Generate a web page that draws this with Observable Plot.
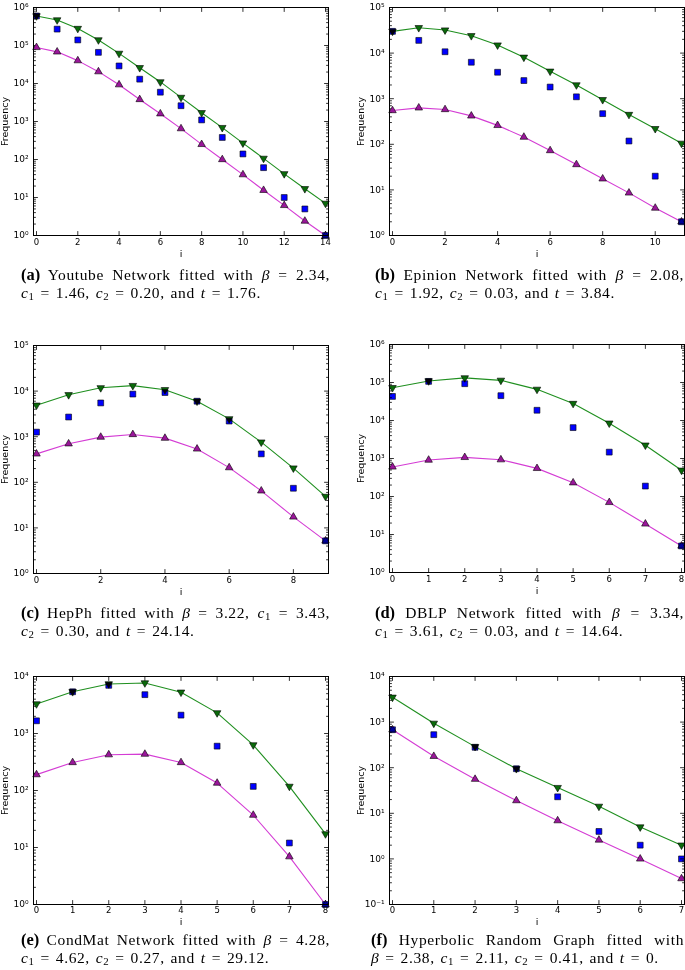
<!DOCTYPE html>
<html>
<head>
<meta charset="utf-8">
<script src="https://cdn.jsdelivr.net/npm/d3@7"></script>
<script src="https://cdn.jsdelivr.net/npm/@observablehq/plot@0.6"></script>
<style>
  body { margin: 0; background: #fff; }
  #page { position: relative; width: 685px; height: 970px; overflow: hidden; background: #fff; }
  .panel { position: absolute; }
  .cap { position: absolute; font-family: "Liberation Serif", "DejaVu Serif", serif; font-size: 15.5px; line-height: 17.5px; color: #000; letter-spacing: 0.6px; word-spacing: 1.5px; }
  .cap .l1 { text-align: justify; text-align-last: justify; }
  .cap b { font-weight: bold; letter-spacing: 0; font-size: 1.06em; }
  .cap sub { font-size: 0.7em; line-height: 0; vertical-align: -0.2em; }
</style>
</head>
<body>
<div id="page"></div>
<script>
// ---------------- data ----------------
// Panel (a) Youtube
const aI = [0,1,2,3,4,5,6,7,8,9,10,11,12,13,14];
const aUpper    = [6.0e5, 4.7e5, 2.8e5, 1.4e5, 6.2e4, 2.6e4, 1.1e4, 4.3e3, 1.7e3, 690, 270, 107, 42, 17, 7];
const aObserved = [6.0e5, 2.7e5, 1.4e5, 6.6e4, 2.9e4, 1.3e4, 5.9e3, 2.6e3, 1.1e3, 380, 140, 61, 10, 5, 1];
const aLower    = [8.9e4, 6.8e4, 4.0e4, 2.05e4, 9.3e3, 3.8e3, 1.6e3, 650, 250, 100, 40, 15.5, 6.2, 2.4, 1];
const aXTicks = [0,2,4,6,8,10,12,14];
const aYTicks = [1e0,1e1,1e2,1e3,1e4,1e5,1e6];

// Panel (b) Epinion
const bI = [0,1,2,3,4,5,6,7,8,9,10,11];
const bUpper    = [3.0e4, 3.6e4, 3.2e4, 2.4e4, 1.5e4, 8.1e3, 4.0e3, 2.0e3, 950, 450, 220, 105];
const bObserved = [3.0e4, 1.9e4, 1.07e4, 6.3e3, 3.8e3, 2.5e3, 1.8e3, 1.1e3, 470, 118, 20, 2];
const bLower    = [550, 630, 580, 420, 260, 144, 73, 36, 17.5, 8.6, 4, 2];
const bXTicks = [0,2,4,6,8,10];
const bYTicks = [1e0,1e1,1e2,1e3,1e4,1e5];

// Panel (c) HepPh
const cI = [0,1,2,3,4,5,6,7,8,9];
const cUpper    = [4.9e3, 8.3e3, 1.18e4, 1.32e4, 1.07e4, 6.0e3, 2.46e3, 760, 205, 49];
const cObserved = [1.26e3, 2.7e3, 5.5e3, 8.6e3, 9.3e3, 6.0e3, 2.2e3, 420, 74, 5.2];
const cLower    = [420, 700, 980, 1120, 930, 540, 210, 65, 17.4, 5.2];
const cXTicks = [0,2,4,6,8];
const cYTicks = [1e0,1e1,1e2,1e3,1e4,1e5];

// Panel (d) DBLP
const dI = [0,1,2,3,4,5,6,7,8];
const dUpper    = [7.3e4, 1.1e5, 1.32e5, 1.14e5, 6.6e4, 2.8e4, 8.5e3, 2.24e3, 490];
const dObserved = [4.3e4, 1.07e5, 9.3e4, 4.5e4, 1.86e4, 6.5e3, 1.47e3, 188, 5];
const dLower    = [600, 910, 1070, 930, 550, 230, 70, 19, 5];
const dXTicks = [0,1,2,3,4,5,6,7,8];
const dYTicks = [1e0,1e1,1e2,1e3,1e4,1e5,1e6];

// Panel (e) CondMat
const eI = [0,1,2,3,4,5,6,7,8];
const eUpper    = [3.3e3, 5.4e3, 7.4e3, 7.7e3, 5.3e3, 2.3e3, 630, 118, 17.3];
const eObserved = [1.67e3, 5.4e3, 7.0e3, 4.8e3, 2.1e3, 600, 118, 12, 1];
const eLower    = [190, 310, 425, 435, 310, 135, 37, 6.9, 1];
const eXTicks = [0,1,2,3,4,5,6,7,8];
const eYTicks = [1e0,1e1,1e2,1e3,1e4];

// Panel (f) Hyperbolic Random Graph
const fI = [0,1,2,3,4,5,6,7];
const fUpper    = [3.5e3, 940, 290, 95, 36.6, 14.2, 5.0, 2.0];
const fObserved = [680, 530, 280, 95, 23, 4.0, 2.0, 1.0];
const fLower    = [680, 178, 56, 19, 6.9, 2.6, 1.0, 0.37];
const fXTicks = [0,1,2,3,4,5,6,7];
const fYTicks = [1e-1,1e0,1e1,1e2,1e3,1e4];

// ---------------- styling ----------------
const GREEN_LINE = "#1f8f1f";
const GREEN_FILL = "#0a6a0a";
const MAG_LINE = "#d43cd4";
const MAG_FILL = "#9a169a";
const BLUE_FILL = "#0000ff";

const SUP = {"-":"\u207B","0":"\u2070","1":"\u00B9","2":"\u00B2","3":"\u00B3","4":"\u2074","5":"\u2075","6":"\u2076","7":"\u2077","8":"\u2078","9":"\u2079"};
const fmtPow = v => "10" + String(Math.round(Math.log10(v))).split("").map(c => SUP[c]).join("");
const tickShape = { draw(ctx, l) { ctx.moveTo(0, 0); ctx.lineTo(0, -l); } };

function minorOf(yTicks) {
  const out = [];
  for (let j = 0; j < yTicks.length - 1; j++) for (let k = 2; k <= 9; k++) out.push(k * yTicks[j]);
  return out;
}

function panel(p) {
  const rows = arr => p.i.map((x, j) => ({x, y: arr[j]}));
  const up = rows(p.upper), obs = rows(p.observed), lo = rows(p.lower);
  const minor = minorOf(p.yTicks);
  const tk = {shape: tickShape, anchor: "start", stroke: "#000", strokeWidth: 0.8};
  return Plot.plot({
    width: p.width, height: p.height,
    marginLeft: 33, marginRight: p.mr, marginTop: 7, marginBottom: p.height - 7 - 228,
    style: {fontFamily: "DejaVu Sans, sans-serif", fontSize: "8px", background: "transparent", overflow: "visible"},
    x: {domain: [0, p.i[p.i.length - 1]], inset: 3},
    y: {type: "log", domain: [p.yTicks[0], p.yTicks[p.yTicks.length - 1]]},
    marks: [
      Plot.axisX(p.xTicks, {tickSize: 0, tickPadding: p.xpad, label: null, tickFormat: d => String(d), fontSize: 8.5}),
      Plot.axisY(p.yTicks, {tickSize: 0, tickPadding: 5, label: null, tickFormat: fmtPow, fontSize: 9}),
      // inward ticks on all four sides
      Plot.vector(p.xTicks, {x: d => d, frameAnchor: "bottom", rotate: 0, length: 4, ...tk}),
      Plot.vector(p.xTicks, {x: d => d, frameAnchor: "top", rotate: 180, length: 4, ...tk}),
      Plot.vector(p.yTicks, {y: d => d, frameAnchor: "left", rotate: 90, length: 4, ...tk}),
      Plot.vector(p.yTicks, {y: d => d, frameAnchor: "right", rotate: -90, length: 4, ...tk}),
      Plot.vector(minor, {y: d => d, frameAnchor: "left", rotate: 90, length: 2, ...tk}),
      Plot.vector(minor, {y: d => d, frameAnchor: "right", rotate: -90, length: 2, ...tk}),
      Plot.line(up, {x: "x", y: "y", stroke: GREEN_LINE, strokeWidth: 1.1}),
      Plot.line(lo, {x: "x", y: "y", stroke: MAG_LINE, strokeWidth: 1.1}),
      Plot.dot(up, {x: "x", y: "y", symbol: "triangle", rotate: 180, r: 2.8, fill: GREEN_FILL, stroke: "#000", strokeWidth: 0.6}),
      Plot.dot(lo, {x: "x", y: "y", symbol: "triangle", r: 2.8, fill: MAG_FILL, stroke: "#000", strokeWidth: 0.6}),
      Plot.dot(obs, {x: "x", y: "y", symbol: "square", r: 3.3, fill: BLUE_FILL, stroke: "#000", strokeWidth: 0.6, mixBlendMode: "multiply"}),
      Plot.frame({stroke: "#000", strokeWidth: 1}),
      Plot.text(["Frequency"], {frameAnchor: "left", rotate: -90, dx: -29, textAnchor: "middle", lineAnchor: "middle", fontSize: 9.5}),
      Plot.text(["i"], {frameAnchor: "bottom", dy: p.idy, textAnchor: "middle", lineAnchor: "middle", fontSize: 9.5})
    ]
  });
}

const panels = [
  {i: aI, upper: aUpper, observed: aObserved, lower: aLower, xTicks: aXTicks, yTicks: aYTicks, left: 0,   top: 0,   width: 340, mr: 12, height: 262, xpad: 3, idy: 18},
  {i: bI, upper: bUpper, observed: bObserved, lower: bLower, xTicks: bXTicks, yTicks: bYTicks, left: 356, top: 0,   width: 329, mr: 1,  height: 262, xpad: 3, idy: 18},
  {i: cI, upper: cUpper, observed: cObserved, lower: cLower, xTicks: cXTicks, yTicks: cYTicks, left: 0,   top: 338, width: 340, mr: 12, height: 262, xpad: 3, idy: 18},
  {i: dI, upper: dUpper, observed: dObserved, lower: dLower, xTicks: dXTicks, yTicks: dYTicks, left: 356, top: 337, width: 329, mr: 1,  height: 262, xpad: 3, idy: 18},
  {i: eI, upper: eUpper, observed: eObserved, lower: eLower, xTicks: eXTicks, yTicks: eYTicks, left: 0,   top: 669, width: 340, mr: 12, height: 258, xpad: 2, idy: 17},
  {i: fI, upper: fUpper, observed: fObserved, lower: fLower, xTicks: fXTicks, yTicks: fYTicks, left: 356, top: 669, width: 329, mr: 1,  height: 258, xpad: 2, idy: 17}
];

const page = document.getElementById("page");
for (const p of panels) {
  const div = document.createElement("div");
  div.className = "panel";
  div.style.left = p.left + "px";
  div.style.top = p.top + "px";
  div.appendChild(panel(p));
  page.appendChild(div);
}

// ---------------- captions ----------------
const captions = [
  {left: 21,  top: 266, width: 309, l1: "<b>(a)</b> Youtube Network fitted with <i>β</i> = 2.34,", l2: "<i>c</i><sub>1</sub> = 1.46, <i>c</i><sub>2</sub> = 0.20, and <i>t</i> = 1.76."},
  {left: 375, top: 266, width: 309, l1: "<b>(b)</b> Epinion Network fitted with <i>β</i> = 2.08,", l2: "<i>c</i><sub>1</sub> = 1.92, <i>c</i><sub>2</sub> = 0.03, and <i>t</i> = 3.84."},
  {left: 21,  top: 604, width: 309, l1: "<b>(c)</b> HepPh fitted with <i>β</i> = 3.22, <i>c</i><sub>1</sub> = 3.43,", l2: "<i>c</i><sub>2</sub> = 0.30, and <i>t</i> = 24.14."},
  {left: 375, top: 604, width: 309, l1: "<b>(d)</b> DBLP Network fitted with <i>β</i> = 3.34,", l2: "<i>c</i><sub>1</sub> = 3.61, <i>c</i><sub>2</sub> = 0.03, and <i>t</i> = 14.64."},
  {left: 21,  top: 931, width: 309, l1: "<b>(e)</b> CondMat Network fitted with <i>β</i> = 4.28,", l2: "<i>c</i><sub>1</sub> = 4.62, <i>c</i><sub>2</sub> = 0.27, and <i>t</i> = 29.12."},
  {left: 371, top: 931, width: 313, l1: "<b>(f)</b> Hyperbolic Random Graph fitted with", l2: "<i>β</i> = 2.38, <i>c</i><sub>1</sub> = 2.11, <i>c</i><sub>2</sub> = 0.41, and <i>t</i> = 0."}
];
for (const c of captions) {
  const div = document.createElement("div");
  div.className = "cap";
  div.style.left = c.left + "px";
  div.style.top = c.top + "px";
  div.style.width = c.width + "px";
  div.innerHTML = `<div class="l1">${c.l1}</div><div>${c.l2}</div>`;
  page.appendChild(div);
}
</script>
</body>
</html>
